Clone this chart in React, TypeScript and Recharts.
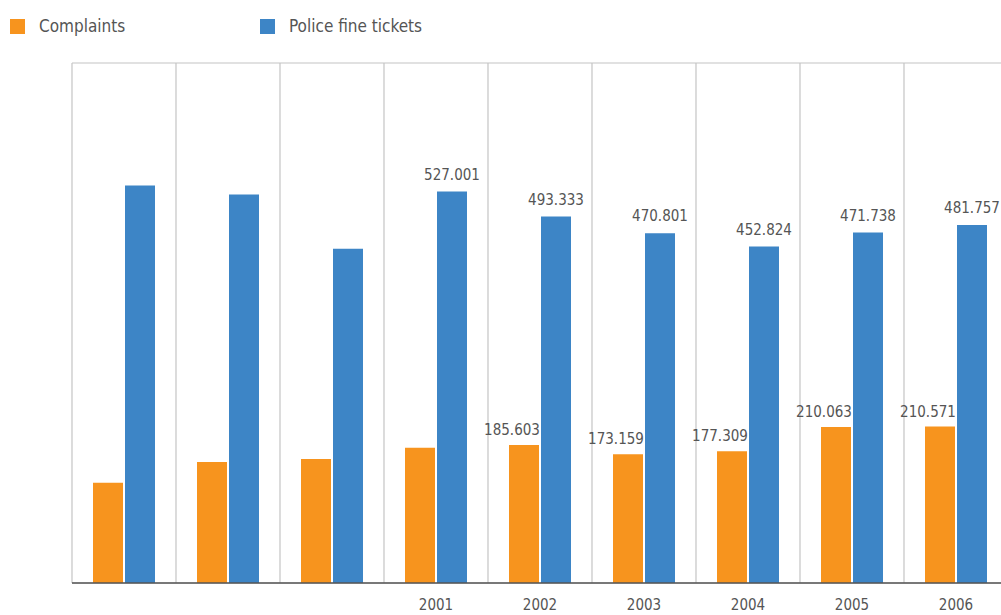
import { BarChart, Bar, XAxis, YAxis, CartesianGrid, LabelList } from "recharts";

const categories = ["1998", "1999", "2000", "2001", "2002", "2003", "2004", "2005", "2006"];
const tickLabels = ["", "", "", "2001", "2002", "2003", "2004", "2005", "2006"];
const complaints = [135, 163, 167, 182, 185.603, 173.159, 177.309, 210.063, 210.571];
const fineTickets = [535, 523, 450, 527.001, 493.333, 470.801, 452.824, 471.738, 481.757];
const complaintLabels = ["", "", "", "", "185.603", "173.159", "177.309", "210.063", "210.571"];
const ticketLabels = ["", "", "", "527.001", "493.333", "470.801", "452.824", "471.738", "481.757"];
const yTicks = [0, 100, 200, 300, 400, 500, 600, 700];

const data = categories.map((c, i) => ({
  year: c,
  complaints: complaints[i],
  tickets: fineTickets[i],
  cLabel: complaintLabels[i],
  tLabel: ticketLabels[i],
}));

const FONT = "'DejaVu Sans Condensed', 'DejaVu Sans', sans-serif";
const textStyle = { fontStretch: "condensed" as const };

const legendItems = [
  { name: "Complaints", color: "#F7941E", width: 250 },
  { name: "Police fine tickets", color: "#3D85C6", width: 200 },
];

function LegendBox() {
  return (
    <div
      style={{
        position: "absolute",
        top: 16,
        left: 10,
        display: "flex",
        fontFamily: FONT,
        fontStretch: "condensed",
        fontSize: 17,
        color: "#555",
      }}
    >
      {legendItems.map((it) => (
        <div key={it.name} style={{ width: it.width, display: "flex", alignItems: "center" }}>
          <span style={{ display: "inline-block", width: 15, height: 15, background: it.color, marginRight: 14 }} />
          <span>{it.name}</span>
        </div>
      ))}
    </div>
  );
}

function App() {
  return (
    <div style={{ position: "absolute", top: 0, left: 0, width: 1001, height: 615, overflow: "hidden", background: "#fff" }}>
      <BarChart
        width={1008}
        height={615}
        data={data}
        margin={{ top: 63, right: 0, bottom: 0, left: 72 }}
        barCategoryGap={21}
        barGap={2}
      >
        <CartesianGrid
          stroke="#c4c4c4"
          strokeWidth={1.2}
          verticalCoordinatesGenerator={({ offset }: any) =>
            categories.map((_, i) => offset.left + (i * offset.width) / categories.length)
          }
        />
        <XAxis
          dataKey="year"
          tickFormatter={(v, i) => tickLabels[i] ?? v}
          height={32}
          axisLine={{ stroke: "#555", strokeWidth: 1.5 }}
          tickLine={false}
          tick={{ fill: "#555", fontSize: 15, fontFamily: FONT, style: textStyle }}
          dy={8}
        />
        <YAxis
          domain={[0, 700]}
          ticks={yTicks}
          width={0}
          tick={false}
          tickLine={false}
          axisLine={{ stroke: "#555", strokeWidth: 1.5 }}
        />
        <Bar dataKey="complaints" fill="#F7941E" isAnimationActive={false}>
          <LabelList
            dataKey="cLabel"
            position="top"
            offset={10}
            dx={-12}
            fill="#555"
            fontSize={15}
            fontFamily={FONT}
            style={textStyle}
          />
        </Bar>
        <Bar dataKey="tickets" fill="#3D85C6" isAnimationActive={false}>
          <LabelList
            dataKey="tLabel"
            position="top"
            offset={12}
            fill="#555"
            fontSize={15}
            fontFamily={FONT}
            style={textStyle}
          />
        </Bar>
      </BarChart>
      <LegendBox />
    </div>
  );
}

export default App;
